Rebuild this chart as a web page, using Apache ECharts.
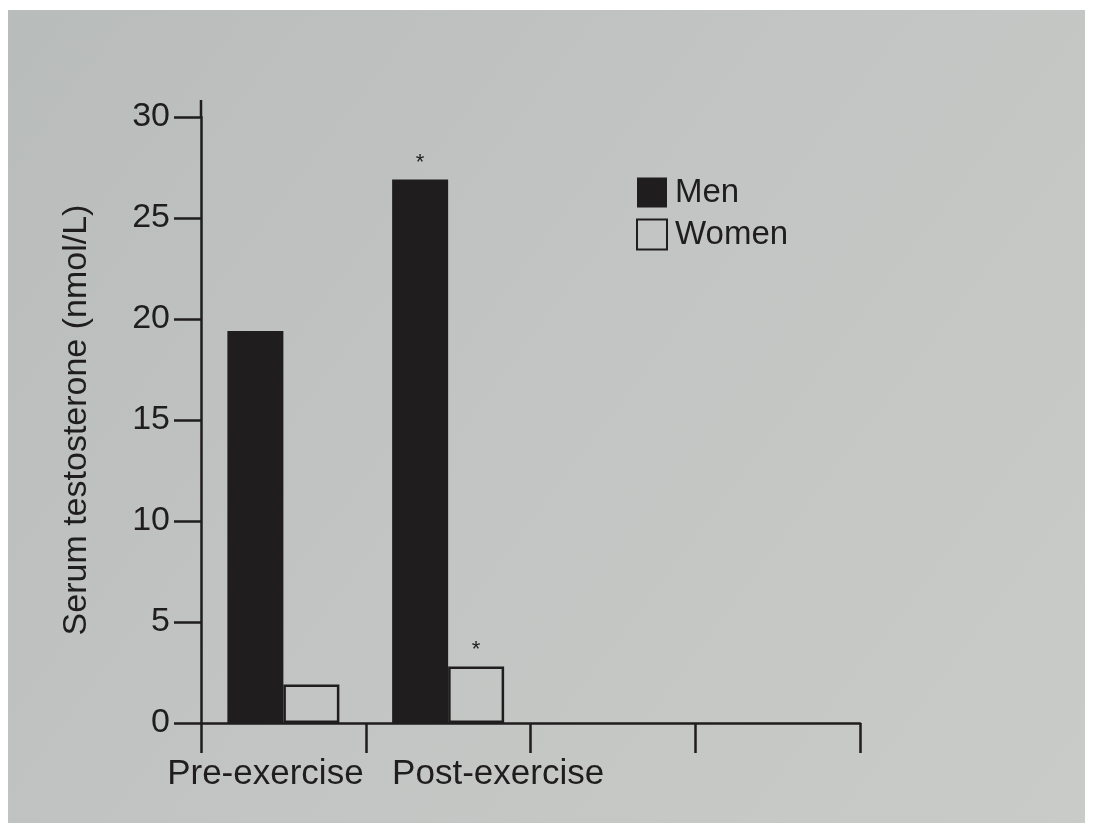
<!DOCTYPE html>
<html>
<head>
<meta charset="utf-8">
<script src="https://cdn.jsdelivr.net/npm/echarts@6/dist/echarts.min.js"></script>
<style>
  html, body { margin: 0; padding: 0; background: #ffffff; }
  #chart { width: 1093px; height: 823px; }
</style>
</head>
<body>
<div id="chart"></div>
<script>
const categories = ['Pre-exercise', 'Post-exercise', '', ''];
const menValues = [19.4, 26.9, null, null];
const womenValues = [1.9, 2.8, null, null];
const menSignificant = [false, true, false, false];
const womenSignificant = [false, true, false, false];
const yTicks = [0, 5, 10, 15, 20, 25, 30];

const ink = '#1f1d1d';
const font = 'Liberation Sans, Arial, Helvetica, sans-serif';

function withStars(values, sig) {
  return values.map((v, i) => sig[i]
    ? { value: v, label: { show: true, formatter: '*', position: 'top', distance: 6, fontSize: 22, color: ink, fontFamily: font } }
    : v);
}

const chart = echarts.init(document.getElementById('chart'));
const option = {
  backgroundColor: '#ffffff',
  animation: false,
  textStyle: { fontFamily: font, color: ink },
  graphic: [{
    type: 'rect',
    z: -100,
    silent: true,
    shape: { x: 8, y: 10, width: 1077, height: 813 },
    style: {
      fill: new echarts.graphic.LinearGradient(0, 0, 1, 1, [
        { offset: 0, color: '#b8bcbb' },
        { offset: 0.5, color: '#c2c5c3' },
        { offset: 1, color: '#c9cbc8' }
      ])
    }
  }],
  grid: { left: 201, right: 233, top: 117, bottom: 100, containLabel: false },
  legend: {
    orient: 'vertical',
    left: 636,
    top: 176,
    padding: 0,
    itemWidth: 30,
    itemHeight: 30,
    itemGap: 9,
    icon: 'rect',
    textStyle: { fontSize: 33, color: ink, fontFamily: font, padding: [0, 0, 0, 3] },
    data: [
      { name: 'Men', itemStyle: { color: ink } },
      { name: 'Women', itemStyle: { color: 'rgba(0,0,0,0)', borderColor: ink, borderWidth: 2 } }
    ]
  },
  xAxis: {
    type: 'category',
    data: categories,
    boundaryGap: true,
    axisLine: { show: true, lineStyle: { color: ink, width: 2.5 } },
    axisTick: { show: true, inside: false, length: 30, alignWithLabel: false, lineStyle: { color: ink, width: 2.5 } },
    axisLabel: {
      show: true,
      interval: 0,
      margin: 34,
      color: ink,
      fontSize: 35,
      fontFamily: font,
      formatter: function (v, i) {
        if (i === 0) return '{a|' + v + '}';
        if (i === 1) return '{b|' + v + '}';
        return v;
      },
      rich: {
        a: { fontSize: 35, color: ink, fontFamily: font, padding: [0, 36, 0, 0] },
        b: { fontSize: 35, color: ink, fontFamily: font, padding: [0, 0, 0, 100] }
      }
    },
    splitLine: { show: false }
  },
  yAxis: {
    type: 'value',
    min: yTicks[0],
    max: yTicks[yTicks.length - 1],
    interval: yTicks[1] - yTicks[0],
    name: 'Serum testosterone (nmol/L)',
    nameLocation: 'middle',
    nameGap: 107,
    nameTextStyle: { fontSize: 34, color: ink, fontFamily: font },
    axisLine: { show: true, lineStyle: { color: ink, width: 2.5 } },
    axisTick: { show: true, inside: false, length: 27, lineStyle: { color: ink, width: 2.5 } },
    axisLabel: { margin: 31, color: ink, fontSize: 34, fontFamily: font },
    splitLine: { show: false }
  },
  series: [
    {
      name: 'Men',
      type: 'bar',
      data: withStars(menValues, menSignificant),
      barWidth: 56,
      barGap: '0%',
      itemStyle: { color: ink }
    },
    {
      name: 'Women',
      type: 'bar',
      data: withStars(womenValues, womenSignificant),
      barWidth: 56,
      barGap: '0%',
      itemStyle: { color: 'rgba(0,0,0,0)', borderColor: ink, borderWidth: 2.5 }
    }
  ]
};
chart.setOption(option);

// extend the y axis line slightly above the top tick, as in the original
const topPt = chart.convertToPixel({ yAxisIndex: 0 }, yTicks[yTicks.length - 1]);
const axisX = chart.convertToPixel({ xAxisIndex: 0 }, 0) - (chart.convertToPixel({ xAxisIndex: 0 }, 1) - chart.convertToPixel({ xAxisIndex: 0 }, 0)) / 2;
chart.setOption({
  graphic: [
    option.graphic[0],
    {
      type: 'line',
      silent: true,
      z: 10,
      shape: { x1: axisX, y1: topPt, x2: axisX, y2: topPt - 17 },
      style: { stroke: ink, lineWidth: 2.5 }
    }
  ]
});
</script>
</body>
</html>
